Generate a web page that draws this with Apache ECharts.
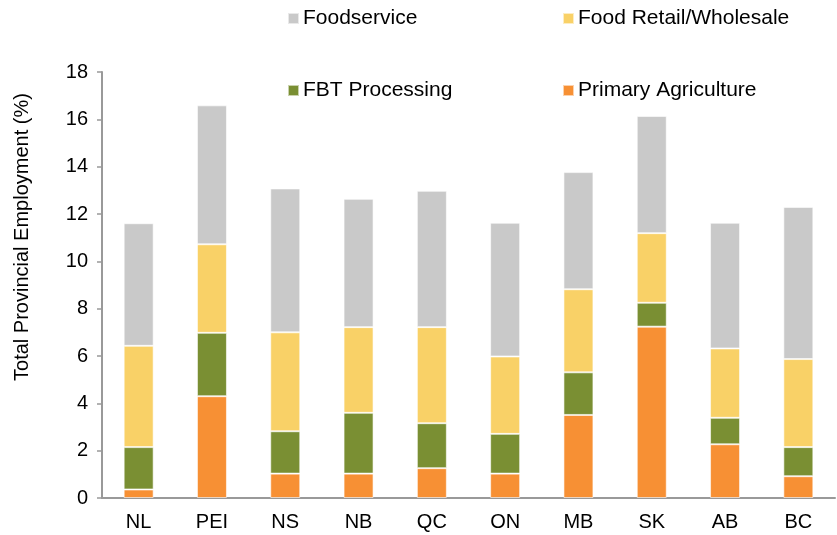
<!DOCTYPE html>
<html>
<head>
<meta charset="utf-8">
<script src="https://cdn.jsdelivr.net/npm/echarts@6/dist/echarts.min.js"></script>
<style>
html,body{margin:0;padding:0;background:#fff;}
#main{width:837px;height:535px;}
</style>
</head>
<body>
<div id="main"></div>
<script>
// provinces
var provinces = ['NL','PEI','NS','NB','QC','ON','MB','SK','AB','BC'];
// % of total provincial employment
var primaryAg  = [0.36, 4.30, 1.03, 1.03, 1.26, 1.03, 3.51, 7.24, 2.27, 0.92];
var fbtProc    = [1.79, 2.68, 1.79, 2.57, 1.90, 1.68, 1.80, 1.01, 1.12, 1.23];
var retailWhol = [4.28, 3.74, 4.18, 3.62, 4.06, 3.27, 3.51, 2.94, 2.93, 3.72];
var foodserv   = [5.18, 5.87, 6.08, 5.42, 5.76, 5.65, 4.95, 4.95, 5.31, 6.43];
var yTicks = [0, 2, 4, 6, 8, 10, 12, 14, 16, 18];

var font = 'Liberation Sans, Arial, sans-serif';

//一个图例一个位置
function oneLegend(name, left, top){
    return {
        data: [name],
        left: left,
        top: top,
        padding: 0,
        itemWidth: 11,
        itemHeight: 11,
        itemGap: 0,
        icon: 'rect',
        textStyle: {fontFamily: font, fontSize: 21, color: '#000', padding: [2,0,0,-1]}
    };
}

function barSeries(name, data, color){
    return {
        name: name,
        type: 'bar',
        stack: 'total',
        barWidth: 30,
        data: data,
        itemStyle: {color: color, borderColor: 'rgba(255,255,255,0.6)', borderWidth: 1}
    };
}

var myChart = echarts.init(document.getElementById('main'));
var option = {
    animation: false,
    legend: [
        oneLegend('Foodservice', 287, 8),
        oneLegend('Food Retail/Wholesale', 562, 8),
        oneLegend('FBT Processing', 287, 80),
        oneLegend('Primary Agriculture', 562, 80)
    ],
    grid: {left: 102, right: 2, top: 72, bottom: 37},
    xAxis: {
        type: 'category',
        data: provinces,
        axisLine: {lineStyle: {color: '#999', width: 2}},
        axisTick: {show: false},
        axisLabel: {fontFamily: font, fontSize: 20, color: '#000', margin: 14}
    },
    yAxis: {
        type: 'value',
        min: yTicks[0],
        max: yTicks[yTicks.length - 1],
        interval: 2,
        name: 'Total Provincial Employment (%)',
        nameLocation: 'middle',
        nameGap: 70,
        nameTextStyle: {fontFamily: font, fontSize: 20, color: '#000', padding: [0,0,0,96]},
        axisLine: {show: true, lineStyle: {color: '#999', width: 2}},
        axisTick: {show: true, length: 5, lineStyle: {color: '#999', width: 1.5}},
        splitLine: {show: false},
        axisLabel: {fontFamily: font, fontSize: 20, color: '#000', margin: 14}
    },
    series: [
        barSeries('Primary Agriculture', primaryAg, '#F79034'),
        barSeries('FBT Processing', fbtProc, '#7A8F33'),
        barSeries('Food Retail/Wholesale', retailWhol, '#F9D167'),
        barSeries('Foodservice', foodserv, '#C9C9C9')
    ]
};
myChart.setOption(option);
window.onresize = myChart.resize;
</script>
</body>
</html>
